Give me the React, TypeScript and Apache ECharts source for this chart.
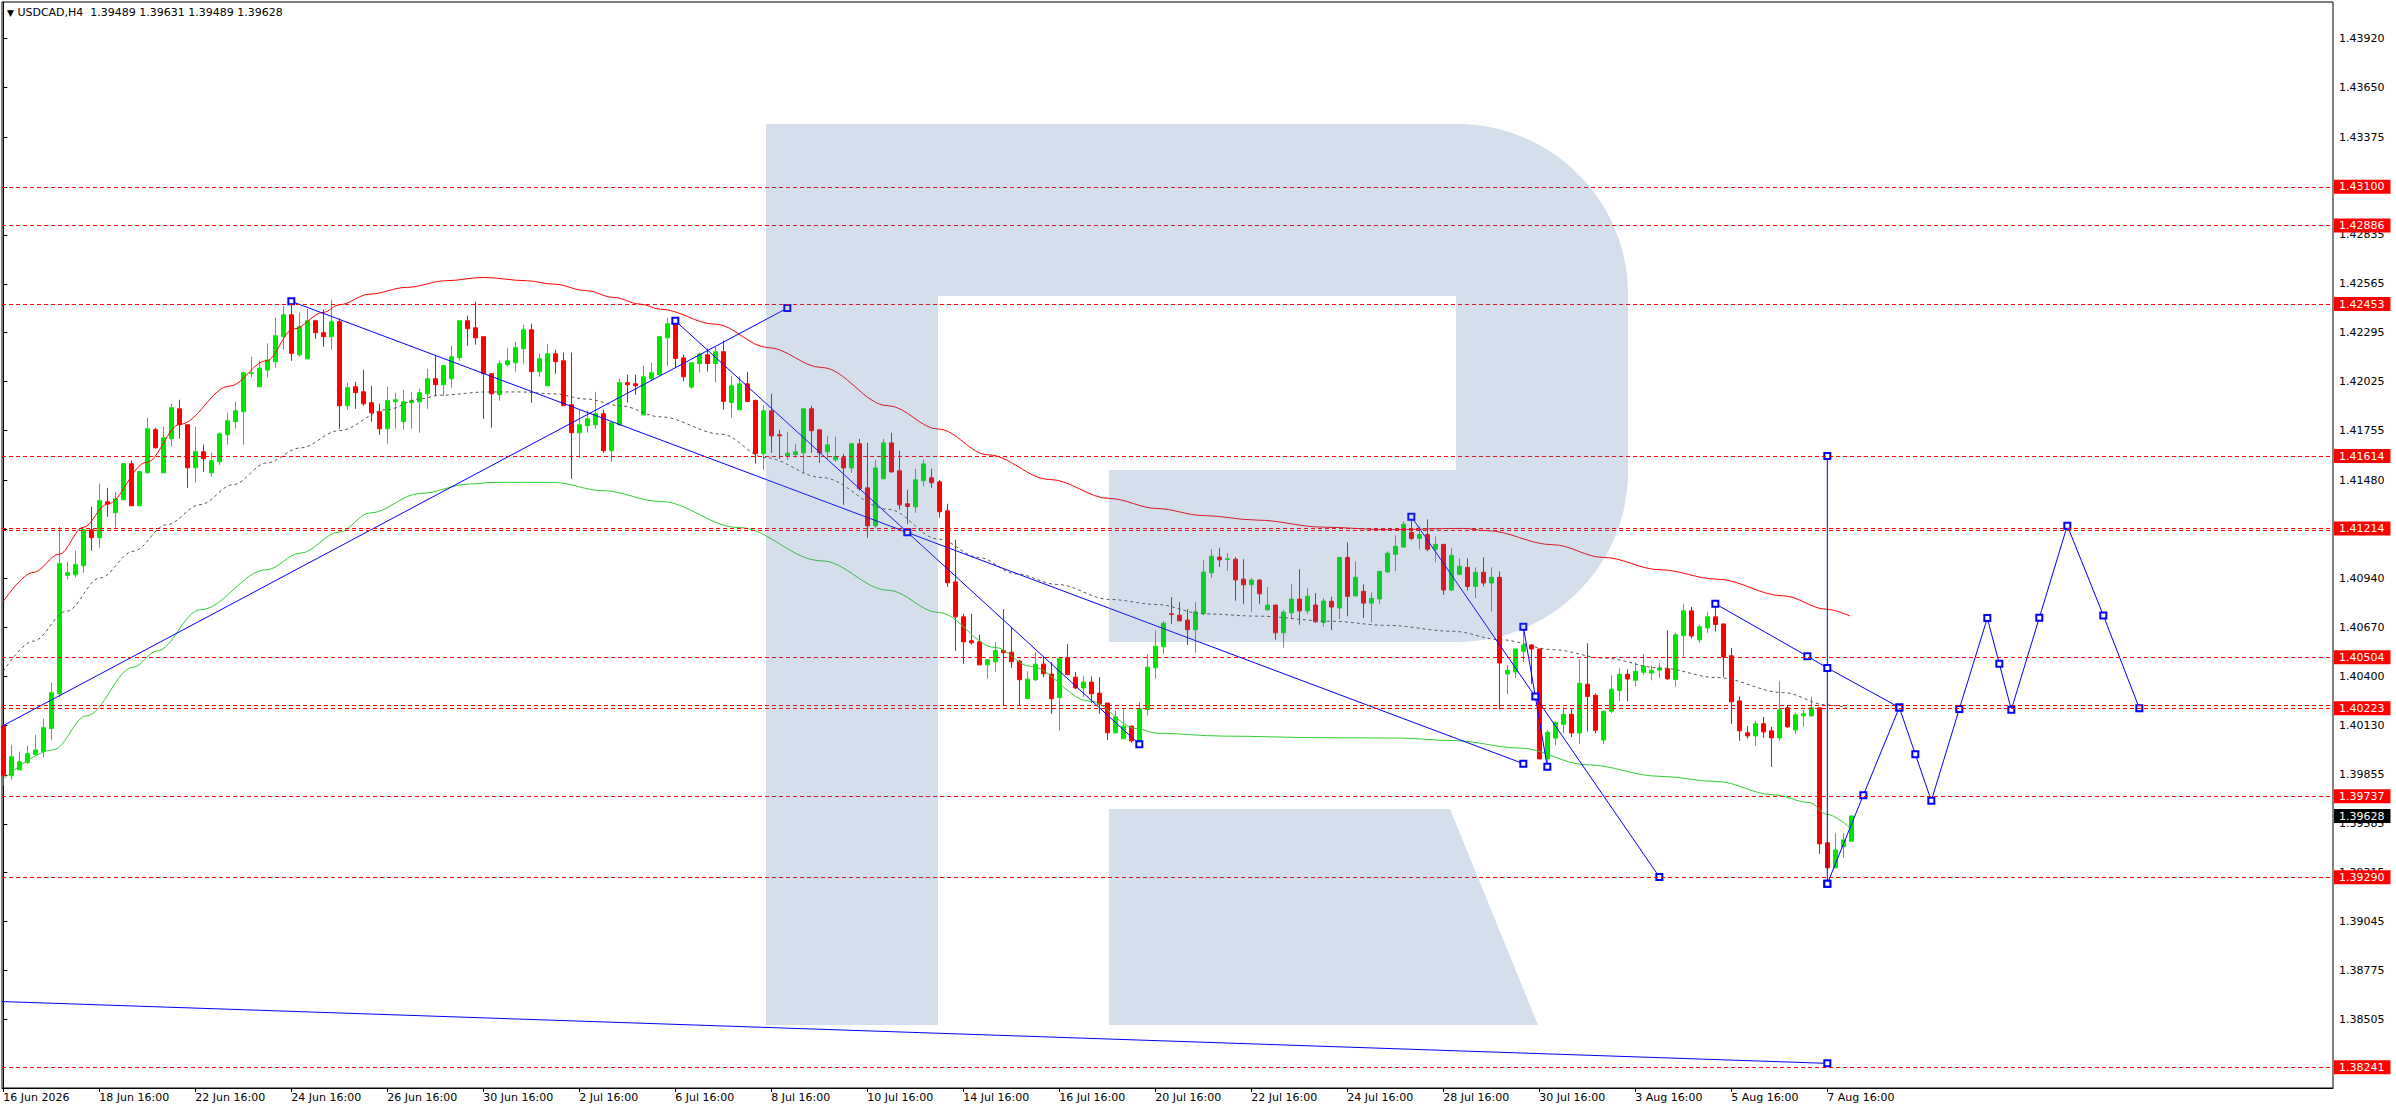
import React, { useEffect, useRef } from 'react';
import * as echarts from 'echarts';

const FONT = 'DejaVu Sans';
const W = 2396;
const H = 1110;

const symbolName = 'USDCAD,H4';

// H4 bars [open, close, low, high], first visible bar is 16 Jun 16:00
const ohlc: [number, number, number, number][] = [
  [1.40126, 1.39850, 1.39795, 1.40135], [1.39850, 1.39955, 1.39828, 1.40021], [1.39883, 1.39927, 1.39883, 1.39983],
  [1.39924, 1.39972, 1.39915, 1.40016], [1.39968, 1.39992, 1.39966, 1.40076], [1.39984, 1.40115, 1.39951, 1.40165],
  [1.40111, 1.40308, 1.40047, 1.40363], [1.40303, 1.41020, 1.40282, 1.41224], [1.40956, 1.40970, 1.40934, 1.41031],
  [1.40959, 1.41015, 1.40945, 1.41092], [1.41009, 1.41208, 1.40970, 1.41213], [1.41208, 1.41164, 1.41092, 1.41335],
  [1.41164, 1.41368, 1.41108, 1.41462], [1.41362, 1.41351, 1.41279, 1.41439], [1.41302, 1.41379, 1.41219, 1.41417],
  [1.41373, 1.41572, 1.41373, 1.41577], [1.41572, 1.41340, 1.41340, 1.41589], [1.41340, 1.41528, 1.41340, 1.41533],
  [1.41522, 1.41765, 1.41517, 1.41826], [1.41760, 1.41660, 1.41655, 1.41771], [1.41522, 1.41715, 1.41522, 1.41776],
  [1.41710, 1.41881, 1.41666, 1.41903], [1.41875, 1.41787, 1.41710, 1.41925], [1.41787, 1.41550, 1.41439, 1.41791],
  [1.41550, 1.41638, 1.41467, 1.41776], [1.41638, 1.41600, 1.41528, 1.41677], [1.41522, 1.41589, 1.41500, 1.41633],
  [1.41583, 1.41737, 1.41566, 1.41743], [1.41732, 1.41809, 1.41677, 1.41853], [1.41804, 1.41864, 1.41765, 1.41914],
  [1.41859, 1.42074, 1.41677, 1.42078], [1.42070, 1.42074, 1.42048, 1.42162], [1.41997, 1.42100, 1.41997, 1.42140],
  [1.42089, 1.42144, 1.42048, 1.42236], [1.42135, 1.42278, 1.42102, 1.42378], [1.42273, 1.42394, 1.42201, 1.42444],
  [1.42394, 1.42181, 1.42140, 1.42471], [1.42173, 1.42328, 1.42162, 1.42405], [1.42151, 1.42361, 1.42151, 1.42427],
  [1.42361, 1.42295, 1.42262, 1.42367], [1.42295, 1.42273, 1.42218, 1.42422], [1.42273, 1.42356, 1.42201, 1.42477],
  [1.42356, 1.41892, 1.41765, 1.42374], [1.41892, 1.41991, 1.41870, 1.42019], [1.41997, 1.41964, 1.41875, 1.42024],
  [1.41969, 1.41903, 1.41892, 1.42091], [1.41909, 1.41853, 1.41804, 1.42002], [1.41859, 1.41765, 1.41732, 1.41903],
  [1.41765, 1.41920, 1.41682, 1.41997], [1.41914, 1.41925, 1.41765, 1.41964], [1.41804, 1.41914, 1.41760, 1.41980],
  [1.41909, 1.41920, 1.41765, 1.41969], [1.41914, 1.41964, 1.41743, 1.41986], [1.41958, 1.42041, 1.41875, 1.42096],
  [1.42041, 1.42008, 1.41947, 1.42173], [1.42008, 1.42113, 1.41947, 1.42113], [1.42041, 1.42162, 1.41991, 1.42223],
  [1.42157, 1.42361, 1.42140, 1.42361], [1.42361, 1.42317, 1.42223, 1.42389], [1.42322, 1.42267, 1.42229, 1.42466],
  [1.42273, 1.42069, 1.41820, 1.42273], [1.42069, 1.41958, 1.41771, 1.42069], [1.41953, 1.42124, 1.41920, 1.42140],
  [1.42118, 1.42140, 1.42107, 1.42212], [1.42129, 1.42212, 1.42080, 1.42245], [1.42207, 1.42311, 1.42124, 1.42339],
  [1.42311, 1.42080, 1.41909, 1.42345], [1.42080, 1.42151, 1.42052, 1.42179], [1.42002, 1.42179, 1.42002, 1.42234],
  [1.42179, 1.42135, 1.42069, 1.42201], [1.42140, 1.41892, 1.41892, 1.42185], [1.41898, 1.41743, 1.41489, 1.42185],
  [1.41743, 1.41787, 1.41605, 1.41870], [1.41782, 1.41820, 1.41743, 1.41864], [1.41787, 1.41848, 1.41765, 1.41969],
  [1.41848, 1.41644, 1.41633, 1.41870], [1.41644, 1.41798, 1.41583, 1.41809], [1.41787, 1.42019, 1.41782, 1.42041],
  [1.42019, 1.42008, 1.41909, 1.42063], [1.42013, 1.42002, 1.41953, 1.42063], [1.41842, 1.42052, 1.41842, 1.42113],
  [1.42041, 1.42074, 1.42030, 1.42129], [1.42063, 1.42273, 1.42058, 1.42278], [1.42267, 1.42344, 1.42112, 1.42377],
  [1.42344, 1.42153, 1.42103, 1.42361], [1.42156, 1.42052, 1.42026, 1.42173], [1.41995, 1.42129, 1.41987, 1.42129],
  [1.42125, 1.42177, 1.42076, 1.42186], [1.42173, 1.42125, 1.42081, 1.42208], [1.42125, 1.42190, 1.42020, 1.42217],
  [1.42190, 1.41916, 1.41871, 1.42252], [1.41910, 1.42002, 1.41827, 1.42057], [1.41870, 1.42013, 1.41870, 1.42055],
  [1.42013, 1.41916, 1.41916, 1.42079], [1.41921, 1.41627, 1.41573, 1.41927], [1.41627, 1.41864, 1.41538, 1.41895],
  [1.41864, 1.41726, 1.41632, 1.41958], [1.41732, 1.41726, 1.41599, 1.41759], [1.41614, 1.41630, 1.41594, 1.41748],
  [1.41623, 1.41638, 1.41605, 1.41682], [1.41632, 1.41875, 1.41516, 1.41875], [1.41875, 1.41754, 1.41632, 1.41892],
  [1.41759, 1.41632, 1.41577, 1.41759], [1.41638, 1.41676, 1.41599, 1.41726], [1.41594, 1.41612, 1.41583, 1.41721],
  [1.41605, 1.41549, 1.41345, 1.41627], [1.41549, 1.41682, 1.41522, 1.41687], [1.41682, 1.41434, 1.41423, 1.41709],
  [1.41439, 1.41229, 1.41163, 1.41687], [1.41229, 1.41549, 1.41218, 1.41594], [1.41489, 1.41687, 1.41489, 1.41709],
  [1.41687, 1.41527, 1.41522, 1.41743], [1.41533, 1.41345, 1.41318, 1.41643], [1.41351, 1.41336, 1.41240, 1.41428],
  [1.41334, 1.41483, 1.41301, 1.41544], [1.41478, 1.41571, 1.41446, 1.41594], [1.41494, 1.41467, 1.41439, 1.41544],
  [1.41472, 1.41307, 1.41274, 1.41483], [1.41312, 1.40915, 1.40893, 1.41351], [1.40920, 1.40727, 1.40540, 1.41152],
  [1.40727, 1.40589, 1.40468, 1.40744], [1.40595, 1.40584, 1.40573, 1.40744], [1.40589, 1.40462, 1.40462, 1.40628],
  [1.40462, 1.40490, 1.40385, 1.40495], [1.40479, 1.40541, 1.40424, 1.40587], [1.40541, 1.40529, 1.40240, 1.40770],
  [1.40532, 1.40479, 1.40446, 1.40667], [1.40483, 1.40380, 1.40240, 1.40488], [1.40277, 1.40383, 1.40277, 1.40427],
  [1.40380, 1.40466, 1.40372, 1.40532], [1.40466, 1.40413, 1.40394, 1.40507], [1.40411, 1.40275, 1.40192, 1.40477],
  [1.40282, 1.40499, 1.40098, 1.40499], [1.40501, 1.40409, 1.40405, 1.40576], [1.40394, 1.40335, 1.40328, 1.40422],
  [1.40335, 1.40367, 1.40284, 1.40400], [1.40367, 1.40302, 1.40253, 1.40398], [1.40306, 1.40245, 1.40192, 1.40394],
  [1.40251, 1.40087, 1.40048, 1.40251], [1.40087, 1.40175, 1.40082, 1.40212], [1.40054, 1.40124, 1.40054, 1.40223],
  [1.40124, 1.40043, 1.40032, 1.40124], [1.40045, 1.40220, 1.40037, 1.40256], [1.40216, 1.40449, 1.40183, 1.40521],
  [1.40446, 1.40565, 1.40385, 1.40652], [1.40562, 1.40692, 1.40523, 1.40703], [1.40744, 1.40740, 1.40689, 1.40836],
  [1.40736, 1.40705, 1.40703, 1.40808], [1.40709, 1.40656, 1.40573, 1.40770], [1.40656, 1.40755, 1.40529, 1.40808],
  [1.40744, 1.40974, 1.40738, 1.41040], [1.40970, 1.41062, 1.40942, 1.41101], [1.41057, 1.41042, 1.41003, 1.41106],
  [1.41044, 1.41047, 1.40981, 1.41079], [1.41045, 1.40931, 1.40816, 1.41057], [1.40935, 1.40904, 1.40799, 1.41045],
  [1.40904, 1.40930, 1.40755, 1.40941], [1.40930, 1.40854, 1.40799, 1.40935], [1.40766, 1.40792, 1.40760, 1.40891],
  [1.40792, 1.40639, 1.40600, 1.40792], [1.40639, 1.40753, 1.40556, 1.40764], [1.40749, 1.40825, 1.40716, 1.40908],
  [1.40825, 1.40760, 1.40683, 1.40990], [1.40760, 1.40841, 1.40744, 1.40885], [1.40792, 1.40700, 1.40694, 1.40858],
  [1.40696, 1.40814, 1.40672, 1.40830], [1.40813, 1.40781, 1.40654, 1.40838], [1.40776, 1.41055, 1.40715, 1.41055],
  [1.41055, 1.40840, 1.40730, 1.41138], [1.40842, 1.40945, 1.40842, 1.41033], [1.40868, 1.40803, 1.40721, 1.40906],
  [1.40803, 1.40829, 1.40697, 1.40862], [1.40826, 1.40978, 1.40798, 1.40978], [1.40975, 1.41078, 1.40971, 1.41089],
  [1.41072, 1.41116, 1.40980, 1.41177], [1.41112, 1.41238, 1.41112, 1.41254], [1.41193, 1.41160, 1.41149, 1.41273],
  [1.41160, 1.41182, 1.41100, 1.41227], [1.41182, 1.41100, 1.41089, 1.41265], [1.41100, 1.41127, 1.41028, 1.41171],
  [1.41127, 1.40875, 1.40848, 1.41127], [1.40875, 1.41066, 1.40870, 1.41105], [1.40962, 1.41006, 1.40962, 1.41050],
  [1.41000, 1.40895, 1.40873, 1.41050], [1.40895, 1.40973, 1.40831, 1.41000], [1.40973, 1.40914, 1.40895, 1.41055],
  [1.40914, 1.40945, 1.40757, 1.41000], [1.40945, 1.40472, 1.40218, 1.40978], [1.40412, 1.40432, 1.40299, 1.40461],
  [1.40423, 1.40550, 1.40390, 1.40550], [1.40537, 1.40572, 1.40478, 1.40675], [1.40572, 1.40550, 1.40356, 1.40577],
  [1.40550, 1.39943, 1.39943, 1.40550], [1.39943, 1.40090, 1.39902, 1.40101], [1.40058, 1.40145, 1.40018, 1.40150],
  [1.40134, 1.40189, 1.40084, 1.40228], [1.40189, 1.40086, 1.40064, 1.40217], [1.40086, 1.40360, 1.40025, 1.40493],
  [1.40355, 1.40288, 1.40095, 1.40581], [1.40294, 1.40101, 1.40084, 1.40305], [1.40047, 1.40206, 1.40025, 1.40211],
  [1.40206, 1.40327, 1.40195, 1.40404], [1.40321, 1.40410, 1.40261, 1.40443], [1.40410, 1.40384, 1.40261, 1.40437],
  [1.40377, 1.40426, 1.40344, 1.40476], [1.40421, 1.40454, 1.40406, 1.40522], [1.40417, 1.40432, 1.40377, 1.40458],
  [1.40433, 1.40444, 1.40389, 1.40473], [1.40440, 1.40385, 1.40379, 1.40652], [1.40381, 1.40628, 1.40341, 1.40639],
  [1.40624, 1.40760, 1.40506, 1.40799], [1.40760, 1.40622, 1.40607, 1.40782], [1.40600, 1.40672, 1.40584, 1.40683],
  [1.40666, 1.40727, 1.40639, 1.40755], [1.40727, 1.40685, 1.40646, 1.40782], [1.40688, 1.40506, 1.40396, 1.40688],
  [1.40512, 1.40258, 1.40137, 1.40556], [1.40263, 1.40098, 1.40043, 1.40286], [1.40087, 1.40070, 1.40054, 1.40125],
  [1.40070, 1.40137, 1.40015, 1.40153], [1.40137, 1.40092, 1.40059, 1.40175], [1.40098, 1.40059, 1.39899, 1.40120],
  [1.40059, 1.40214, 1.40043, 1.40374], [1.40225, 1.40120, 1.40114, 1.40236], [1.40103, 1.40186, 1.40081, 1.40197],
  [1.40181, 1.40192, 1.40120, 1.40214], [1.40181, 1.40225, 1.40175, 1.40286], [1.40225, 1.39474, 1.39419, 1.40225],
  [1.39480, 1.39342, 1.39342, 1.39480], [1.39342, 1.39441, 1.39342, 1.39535], [1.39458, 1.39496, 1.39397, 1.39535],
  [1.39489, 1.39628, 1.39489, 1.39631],
];

const timeLabels = [
  '16 Jun 2026', '18 Jun 16:00', '22 Jun 16:00', '24 Jun 16:00', '26 Jun 16:00', '30 Jun 16:00', '2 Jul 16:00',
  '6 Jul 16:00', '8 Jul 16:00', '10 Jul 16:00', '14 Jul 16:00', '16 Jul 16:00', '20 Jul 16:00', '22 Jul 16:00',
  '24 Jul 16:00', '28 Jul 16:00', '30 Jul 16:00', '3 Aug 16:00', '5 Aug 16:00', '7 Aug 16:00',
];
const timeLabelBars = [0, 12, 24, 36, 48, 60, 72, 84, 96, 108, 120, 132, 144, 156, 168, 180, 192, 204, 216, 228];

const priceTicks = [
  1.43920, 1.43650, 1.43375, 1.43100, 1.42835, 1.42565, 1.42295, 1.42025, 1.41755, 1.41480, 1.41210,
  1.40940, 1.40670, 1.40400, 1.40130, 1.39855, 1.39585, 1.39315, 1.39045, 1.38775, 1.38505,
];

// horizontal levels with their price boxes, plus the unlabelled twin lines
const levels = [1.43100, 1.42886, 1.42453, 1.41614, 1.41214, 1.40504, 1.40223, 1.39737, 1.39290, 1.38241];
const twinLevels = [1.41206, 1.40238];
const bidPrice = 1.39628;

// moving averages, sampled [bar, price]
const redMA: [number, number][] = [
  [0, 1.40812], [3.75, 1.40972], [7, 1.41073], [10, 1.41221], [13, 1.41349], [17.9, 1.41579], [22.1, 1.41790],
  [28.3, 1.42001], [32.9, 1.42140], [36.25, 1.42315], [40, 1.42407], [42, 1.42449], [45.8, 1.42508], [50.4, 1.42545],
  [55.4, 1.42582], [60, 1.42600], [65.4, 1.42582], [68.8, 1.42563], [72.9, 1.42527], [76.25, 1.42490], [79.6, 1.42453],
  [82.1, 1.42425], [89, 1.42342], [95.6, 1.42213], [102.3, 1.42103], [110.6, 1.41892], [116.9, 1.41763],
  [123.1, 1.41621], [130.8, 1.41485], [138.3, 1.41380], [144.2, 1.41325], [150, 1.41286], [156.7, 1.41261],
  [165, 1.41222], [173, 1.41208], [182.5, 1.41215], [185.4, 1.41203], [193.7, 1.41125], [200, 1.41055],
  [207.1, 1.40987], [214.2, 1.40935], [222.5, 1.40843], [227.9, 1.40769], [230.8, 1.40732],
];
const greenMA: [number, number][] = [
  [0, 1.39832], [6.25, 1.39993], [10.4, 1.40181], [16.25, 1.40449], [19.2, 1.40539], [24.6, 1.40766], [32.9, 1.40987],
  [37.1, 1.41078], [42, 1.41195], [45.8, 1.41300], [52.1, 1.41408], [58.3, 1.41460], [61.25, 1.41469],
  [68.75, 1.41469], [75, 1.41423], [82.1, 1.41364], [91.9, 1.41220], [102.3, 1.41036], [110.6, 1.40874],
  [116.9, 1.40751], [124, 1.40558], [128.3, 1.40455], [135.8, 1.40262], [141.7, 1.40110], [144.2, 1.40085],
  [152.5, 1.40069], [165, 1.40060], [174.6, 1.40058], [181.25, 1.40044], [189.6, 1.40003], [197.9, 1.39911],
  [207.1, 1.39847], [214.2, 1.39818], [221.25, 1.39745], [225.8, 1.39702], [227.9, 1.39638], [230.8, 1.39564],
];
const grayMA: [number, number][] = [
  [0, 1.40427], [3.75, 1.40593], [7.9, 1.40758], [12.1, 1.40942], [16.25, 1.41089], [20.4, 1.41235], [24.6, 1.41346],
  [28.75, 1.41457], [32.9, 1.41576], [37.1, 1.41659], [42, 1.41755], [47.9, 1.41870], [52.1, 1.41930],
  [54.6, 1.41950], [60.4, 1.41968], [64.6, 1.41968], [68.75, 1.41958], [72.9, 1.41929], [77.1, 1.41892],
  [82.1, 1.41831], [89.8, 1.41735], [95.2, 1.41606], [102.3, 1.41496], [110.6, 1.41321], [116.9, 1.41156],
  [121.9, 1.41055], [126.6, 1.40964], [131.7, 1.40906], [138.3, 1.40823], [144.2, 1.40795], [150, 1.40744],
  [156.7, 1.40731], [165.8, 1.40703], [173, 1.40680], [181.25, 1.40647], [187.1, 1.40601], [193.75, 1.40546],
  [200, 1.40500], [207.1, 1.40445], [214.2, 1.40392], [222.5, 1.40309], [227.9, 1.40241], [230.4, 1.40227],
];

// drawn objects: trend lines and the forecast path, [bar, price]; points left of bar 0 carry no marker
const trendUp: [number, number][] = [[-0.17, 1.40123], [98, 1.42431]];
const trendDown: [number, number][] = [[36, 1.42468], [190, 1.39917]];
const trendSteep: [number, number][] = [[84, 1.42361], [113, 1.41194], [142, 1.40024]];
const trendAug: [number, number][] = [[176, 1.41280], [207, 1.39292]];
const trendShort: [number, number][] = [[190, 1.40673], [191.5, 1.40288], [193, 1.39900]];
const trendLast: [number, number][] = [[214, 1.40799], [225.5, 1.40510], [228, 1.40445], [237, 1.40227]];
const verticalMark: [number, number][] = [[228, 1.39254], [228, 1.41614]];
const forecast: [number, number][] = [
  [228, 1.39254], [232.5, 1.39743], [237, 1.40227], [239, 1.39969], [241, 1.39712], [244.5, 1.40219],
  [248, 1.40720], [249.5, 1.40468], [251, 1.40215], [254.5, 1.40722], [258, 1.41230], [262.5, 1.40735], [267, 1.40223],
];
const trendBottom: [number, number][] = [[-0.17, 1.38604], [228, 1.38263]];

// watermark "R" outline in page pixels
const LOGO_PATH =
  'M766 124 L1457 124 C1551 124 1628 200 1628 294 L1628 472 C1628 566 1551 642 1457 642 L1109 642 L1109 470 ' +
  'L1456 470 L1456 296 L938 296 L938 1025 L766 1025 Z M1109 809 L1450 809 L1538 1025 L1109 1025 Z';

const BLUE = '#0000ff';

function drawnLine(points: [number, number][]) {
  return {
    type: 'line',
    z: 4,
    silent: true,
    symbol: 'emptyRect',
    symbolSize: 6,
    showAllSymbol: true,
    lineStyle: { color: BLUE, width: 1 },
    itemStyle: { color: BLUE, borderWidth: 1 },
    data: points.map((p) => (p[0] < 0 ? { value: p, symbol: 'none' } : { value: p })),
  };
}

function maLine(points: [number, number][], color: string, type: any) {
  return {
    type: 'line',
    z: 3,
    silent: true,
    symbol: 'none',
    smooth: 0.35,
    smoothMonotone: 'x',
    lineStyle: { color, width: 1, type },
    data: points,
  };
}

export default function App() {
  const ref = useRef<HTMLDivElement>(null);

  useEffect(() => {
    if (!ref.current) return;
    echarts.graphic.registerShape('rlogo', echarts.graphic.extendPath(LOGO_PATH, {}));
    const chart = echarts.init(ref.current, null, { renderer: 'svg' });

    const last = ohlc[ohlc.length - 1];
    const header = `${symbolName}  ${last[0].toFixed(5)} ${last[3].toFixed(5)} ${last[2].toFixed(5)} ${last[1].toFixed(5)}`;

    const boxLabel = (text: string, bg: string) => ({
      show: true,
      position: 'end',
      distance: 1,
      formatter: text,
      color: '#ffffff',
      backgroundColor: bg,
      fontFamily: FONT,
      fontSize: 11,
      lineHeight: 12,
      padding: [1, 6, 1, 5],
    });

    const markData: any[] = [
      ...levels.map((v) => ({ yAxis: v, label: boxLabel(v.toFixed(5), '#ff0000') })),
      ...twinLevels.map((v) => ({ yAxis: v, label: { show: false } })),
      {
        yAxis: bidPrice,
        lineStyle: { color: 'rgba(0,0,0,0)', width: 1, type: 'solid' },
        label: boxLabel(bidPrice.toFixed(5), '#000000'),
      },
    ];

    chart.setOption({
      animation: false,
      backgroundColor: '#ffffff',
      textStyle: { fontFamily: FONT },
      title: {
        text: `{tri|▼} ${header}`,
        left: 7,
        top: 7,
        padding: 0,
        textStyle: {
          fontFamily: FONT,
          fontSize: 11,
          fontWeight: 'normal',
          color: '#000000',
          rich: { tri: { fontSize: 9, color: '#000000', fontFamily: FONT } },
        },
      },
      grid: {
        left: 2,
        top: 2,
        right: 63,
        bottom: 22,
        show: true,
        borderColor: '#000000',
        borderWidth: 1,
        backgroundColor: '#ffffff',
      },
      xAxis: {
        type: 'value',
        min: -0.166,
        max: 291.21,
        splitLine: { show: false },
        axisLine: { show: true, lineStyle: { color: '#000000', width: 1 } },
        axisTick: { show: true, length: 4, customValues: timeLabelBars, lineStyle: { color: '#000000' } },
        axisLabel: {
          customValues: timeLabelBars,
          formatter: (v: number) => timeLabels[timeLabelBars.indexOf(Math.round(v))] ?? '',
          align: 'left',
          margin: 4,
          color: '#000000',
          fontFamily: FONT,
          fontSize: 11,
        },
      },
      yAxis: {
        type: 'value',
        position: 'right',
        min: 1.38127,
        max: 1.4412,
        splitLine: { show: false },
        axisLine: { show: true, lineStyle: { color: '#000000', width: 1 } },
        axisTick: { show: true, length: 4, customValues: priceTicks, lineStyle: { color: '#000000' } },
        axisLabel: {
          customValues: priceTicks,
          formatter: (v: number) => v.toFixed(5),
          margin: 6,
          color: '#000000',
          fontFamily: FONT,
          fontSize: 11,
        },
      },
      series: [
        {
          type: 'candlestick',
          z: 2,
          silent: true,
          barWidth: 4,
          encode: { x: 0, y: [1, 2, 3, 4] },
          itemStyle: {
            color: '#00e600',
            color0: '#ff0000',
            borderColor: '#00e600',
            borderColor0: '#ff0000',
            borderWidth: 1,
          },
          data: ohlc.map((d, i) => [i, d[0], d[1], d[2], d[3]]),
          markLine: {
            silent: true,
            symbol: ['none', 'none'],
            precision: 5,
            lineStyle: { color: '#ff0000', width: 1, type: [4, 3] },
            data: markData,
          },
        },
        maLine(redMA, '#ff0000', 'solid'),
        maLine(greenMA, '#32cd32', 'solid'),
        maLine(grayMA, '#555555', [3, 3]),
        drawnLine(trendUp),
        drawnLine(trendDown),
        drawnLine(trendSteep),
        drawnLine(trendAug),
        drawnLine(trendShort),
        drawnLine(trendLast),
        drawnLine(verticalMark),
        drawnLine(forecast),
        drawnLine(trendBottom),
      ],
      graphic: {
        elements: [
          {
            type: 'rlogo',
            x: 0,
            y: 0,
            z: 50,
            silent: true,
            shape: {},
            style: { fill: 'rgba(77, 115, 170, 0.235)' },
          },
        ],
      },
    });

    return () => chart.dispose();
  }, []);

  return (
    <div
      ref={ref}
      style={{ position: 'absolute', left: 0, top: 0, width: W, height: H, background: '#ffffff' }}
    />
  );
}
